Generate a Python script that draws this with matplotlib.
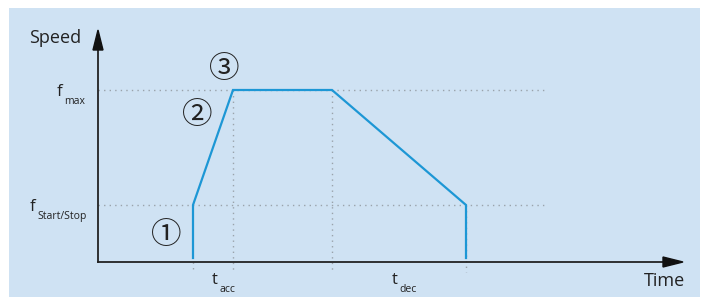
import matplotlib
matplotlib.use("Agg")
import matplotlib.pyplot as plt
from matplotlib.patches import Rectangle, Polygon

# ---- data (arbitrary units) ----
time_pts = [95, 95, 135, 234, 368, 368]
speed_pts = [4, 57, 172, 172, 57, 4]
f_start = 57
f_max = 172
t_marks = [95, 135, 234, 368]
speed_label = "Speed"
time_label = "Time"

BG = "#cfe2f3"
BLUE = "#1d97d5"
DOT = "#9aa3ab"
TXT = "#222222"

fig = plt.figure(figsize=(7.01, 2.97), dpi=100)
ax = fig.add_axes([0, 0, 1, 1])
ax.set_xlim(-98, 603)
ax.set_ylim(-35, 262)
ax.axis("off")

# background panel
ax.add_patch(Rectangle((-89, -35), 691, 289, facecolor=BG, edgecolor="none", zorder=0))

# dotted guides
for yv in (f_start, f_max):
    ax.plot([0, 449], [yv, yv], linestyle=(0, (1, 3)), color=DOT, lw=1.0, zorder=1)
ax.plot([t_marks[0]] * 2, [0, -10], linestyle=(0, (1, 3)), color=DOT, lw=1.0, zorder=1)
ax.plot([t_marks[1]] * 2, [f_max, -10], linestyle=(0, (1, 3)), color=DOT, lw=1.0, zorder=1)
ax.plot([t_marks[2]] * 2, [f_max, -10], linestyle=(0, (1, 3)), color=DOT, lw=1.0, zorder=1)
ax.plot([t_marks[3]] * 2, [f_start, -10], linestyle=(0, (1, 3)), color=DOT, lw=1.0, zorder=1)

# axes lines with arrows
ax.plot([0, 0], [0, 215], color="#222222", lw=1.3, zorder=3)
ax.plot([0, 570], [0, 0], color="#222222", lw=1.3, zorder=3)
ax.add_patch(Polygon([[-5, 212], [5, 212], [0, 232]], closed=True, color="#111111", zorder=4))
ax.add_patch(Polygon([[565, 5], [565, -5], [585, 0]], closed=True, color="#111111", zorder=4))

# speed profile
ax.plot(time_pts, speed_pts, color=BLUE, lw=1.6, zorder=5, solid_joinstyle="miter")

fam = ["Open Sans", "DejaVu Sans"]
ax.text(-69, 224, speed_label, fontsize=13, color=TXT, family=fam, va="center", ha="left")
ax.text(587, -19, time_label, fontsize=13, color=TXT, family=fam, va="center", ha="right")

# f labels
ax.text(-41, 170, "f", fontsize=12, color=TXT, family=fam, va="center", ha="left")
ax.text(-34, 161, "max", fontsize=7.5, color=TXT, family=fam, va="center", ha="left")
ax.text(-68, 55, "f", fontsize=12, color=TXT, family=fam, va="center", ha="left")
ax.text(-61, 46, "Start/Stop", fontsize=7.5, color=TXT, family=fam, va="center", ha="left")

# t labels
ax.text(114, -18, "t", fontsize=12, color=TXT, family=fam, va="center", ha="left")
ax.text(121, -27, "acc", fontsize=7.5, color=TXT, family=fam, va="center", ha="left")
ax.text(294, -18, "t", fontsize=12, color=TXT, family=fam, va="center", ha="left")
ax.text(301, -27, "dec", fontsize=7.5, color=TXT, family=fam, va="center", ha="left")

# circled numbers
circ = ["Noto Sans CJK JP", "DejaVu Sans"]
ax.text(68, 27, "\u2460", fontsize=22, color=TXT, family=circ, ha="center", va="center")
ax.text(99, 146, "\u2461", fontsize=22, color=TXT, family=circ, ha="center", va="center")
ax.text(126, 193, "\u2462", fontsize=22, color=TXT, family=circ, ha="center", va="center")

fig.savefig("out.png", dpi=100)
